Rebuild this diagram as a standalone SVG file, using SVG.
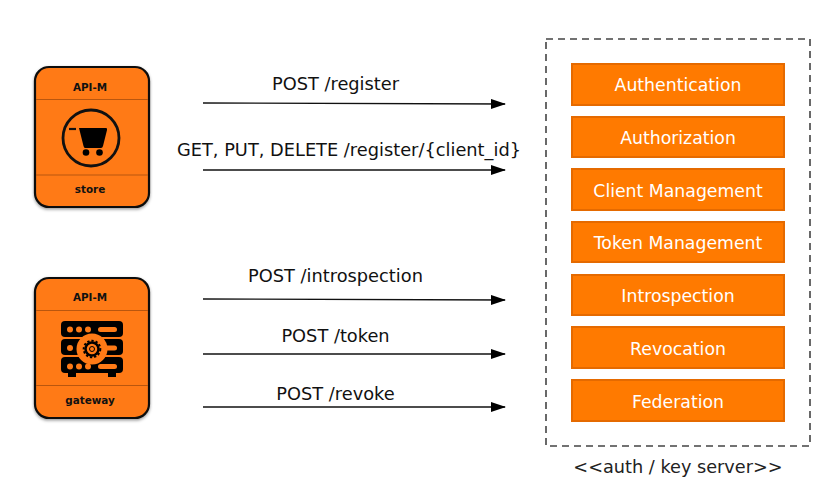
<svg xmlns="http://www.w3.org/2000/svg" width="840" height="497" viewBox="0 0 840 497">
<style>
text{font-family:"DejaVu Sans",Verdana,sans-serif}
.lbl{font-size:17.8px;fill:#111;text-anchor:middle}
.svc rect{fill:#ff7a00;stroke:#e56a00;stroke-width:2;filter:url(#halo)}
.svc text{font-size:17.3px;fill:#fff;text-anchor:middle}
.card{fill:#ff7a16;stroke:#0c0c0c;stroke-width:2.2}
.sep{stroke:#b9560e;stroke-width:1}
.cap{font-size:10.4px;font-weight:bold;fill:#111;text-anchor:middle}
.conn{stroke:#111;stroke-width:1.3;fill:none;marker-end:url(#arr)}
</style>
<defs>
<marker id="arr" markerUnits="userSpaceOnUse" markerWidth="15" markerHeight="11" refX="14" refY="5" orient="auto"><path d="M0 0L15 5L0 10Z" fill="#000"/></marker>
<filter id="sh" x="-10%" y="-10%" width="120%" height="120%"><feDropShadow dx="0" dy="1.5" stdDeviation="1.5" flood-color="#000" flood-opacity=".4"/></filter>
<filter id="halo" x="-5%" y="-10%" width="110%" height="120%"><feDropShadow dx="0" dy="0" stdDeviation="0.6" flood-color="#ff9a40" flood-opacity=".6"/></filter>
</defs>
<rect width="840" height="497" fill="#fff"/>
<g id="connectors">
<path class="conn" d="M203 103L505 104"/>
<path class="conn" d="M203 170H505"/>
<path class="conn" d="M203 299L505 300"/>
<path class="conn" d="M203 354H505"/>
<path class="conn" d="M203 407H505"/>
</g>
<g id="labels">
<text class="lbl" x="335.500" y="90">POST /register</text>
<text class="lbl" x="349" y="156">GET, PUT, DELETE /register/{client_id}</text>
<text class="lbl" x="335.500" y="282">POST /introspection</text>
<text class="lbl" x="335.500" y="342">POST /token</text>
<text class="lbl" x="335.500" y="400">POST /revoke</text>
</g>
<g id="store">
<rect class="card" filter="url(#sh)" x="35" y="67" width="114" height="140" rx="14"/>
<path class="sep" d="M36 99.500H148M36 175H148"/>
<text class="cap" x="90" y="90.500">API-M</text>
<text class="cap" x="90" y="193">store</text>
<circle cx="91" cy="138" r="28" fill="none" stroke="#111" stroke-width="2.800"/>
<path d="M69 129H76" stroke="#111" stroke-width="2.200"/>
<path d="M79 128H106Q107.500 128 107 130L103 146Q102.500 148 101 148H85Q84 148 83.500 146Z" fill="#000"/>
<circle cx="86" cy="152.500" r="3.300"/><circle cx="99.500" cy="152.500" r="3.300"/>
</g>
<g id="gateway">
<rect class="card" filter="url(#sh)" x="35" y="278" width="114" height="140" rx="14"/>
<path class="sep" d="M36 310.500H148M36 385.500H148"/>
<text class="cap" x="90" y="301">API-M</text>
<text class="cap" x="90" y="404">gateway</text>
<rect x="61" y="321" width="62" height="16" rx="4" fill="#000"/>
<rect x="61" y="339" width="62" height="16" rx="4" fill="#000"/>
<rect x="61" y="357" width="62" height="16" rx="4" fill="#000"/>
<path d="M68 373h8v4h-8zM108 373h8v4h-8z" fill="#000"/>
<g fill="#ff7a16">
<circle cx="70" cy="329.500" r="3"/><circle cx="79" cy="329.500" r="3"/><circle cx="88" cy="329.500" r="3"/><rect x="98" y="327" width="19" height="5" rx="2.500"/>
<circle cx="70" cy="348" r="3"/><rect x="98" y="345.500" width="19" height="5" rx="2.500"/>
<circle cx="70" cy="366.500" r="3"/><circle cx="79" cy="366.500" r="3"/><circle cx="88" cy="366.500" r="3"/><rect x="98" y="364" width="19" height="5" rx="2.500"/>
<circle cx="92" cy="349" r="15.500"/>
</g>
<circle cx="92" cy="349" r="6.500" fill="none" stroke="#000" stroke-width="2.500"/>
<circle cx="92" cy="349" r="8.300" fill="none" stroke="#000" stroke-width="2" stroke-dasharray="2.300 1.950"/>
<circle cx="92" cy="349" r="2.500" fill="none" stroke="#000" stroke-width="1"/>
</g>
<g id="auth-key-server">
<rect x="546" y="39" width="264" height="407" fill="none" stroke="#444" stroke-width="1.600" stroke-dasharray="7 5"/>
<text x="678" y="473" font-size="17.7" fill="#222" text-anchor="middle">&lt;&lt;auth / key server&gt;&gt;</text>
</g>
<g id="authentication" class="svc"><rect x="572" y="64" width="212" height="41"/><text x="678" y="91">Authentication</text></g>
<g id="authorization" class="svc"><rect x="572" y="117" width="212" height="40"/><text x="678" y="144">Authorization</text></g>
<g id="client-management" class="svc"><rect x="572" y="169" width="212" height="41"/><text x="678" y="196.500">Client Management</text></g>
<g id="token-management" class="svc"><rect x="572" y="222" width="212" height="40"/><text x="678" y="249">Token Management</text></g>
<g id="introspection" class="svc"><rect x="572" y="275" width="212" height="40"/><text x="678" y="302">Introspection</text></g>
<g id="revocation" class="svc"><rect x="572" y="327" width="212" height="41"/><text x="678" y="354.500">Revocation</text></g>
<g id="federation" class="svc"><rect x="572" y="380" width="212" height="41"/><text x="678" y="407.500">Federation</text></g>
</svg>
